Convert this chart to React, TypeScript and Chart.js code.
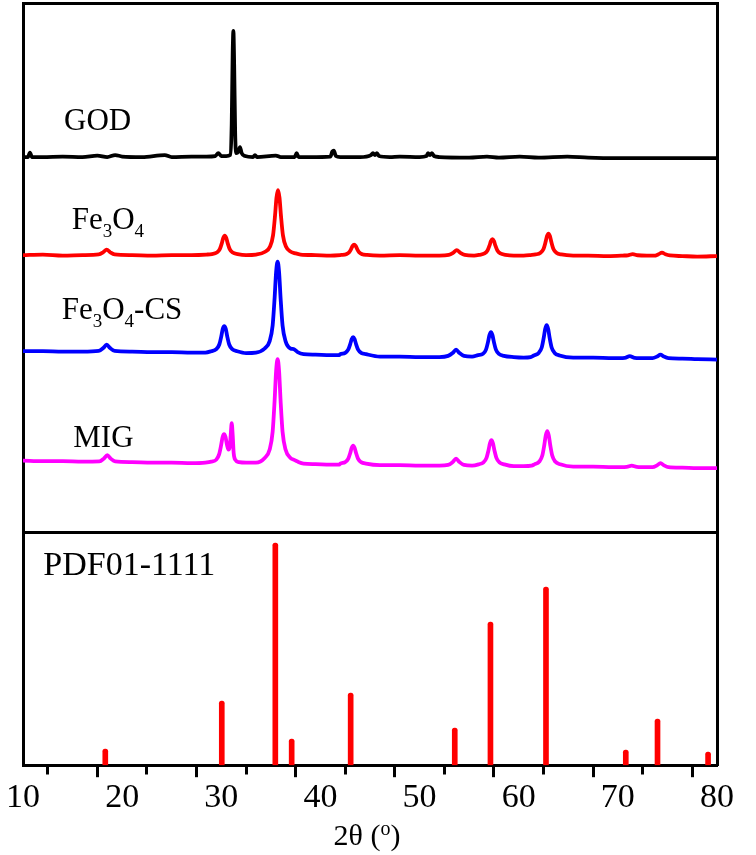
import React, { useEffect, useRef } from "react";
import { Chart, registerables } from "chart.js";

Chart.register(...registerables);

// ---------- data (2θ in degrees, intensity in a.u., curves stacked with offsets) ----------
const godCurve: [number, number][] = [
  [10, 608], [10.5, 608], [10.7, 612.5], [10.9, 608], [12, 608], [14, 608.5], [16, 608],
  [17.5, 609.5], [18.5, 608], [19.3, 610], [20, 608.5], [22, 608], [24.3, 610], [25, 608],
  [27, 608.5], [28.5, 608.5], [29.4, 609], [29.7, 612], [30.0, 609], [30.5, 609], [30.9, 610],
  [31.05, 640], [31.15, 712], [31.22, 734], [31.3, 700], [31.4, 632], [31.5, 612], [31.7, 613],
  [31.89, 618], [32.05, 612], [32.4, 609], [33.2, 608], [33.4, 610], [33.6, 608], [35.5, 609.5],
  [36, 608], [37.4, 608], [37.6, 612], [37.8, 608], [39, 608], [41, 608.5], [41.2, 613.5],
  [41.35, 614.5], [41.55, 609], [42, 608], [44, 608], [45.1, 610], [45.3, 612], [45.5, 610],
  [45.7, 612], [45.9, 609], [47, 608], [48, 608.5], [50, 608], [50.7, 609], [50.85, 612],
  [51.05, 610], [51.25, 612], [51.45, 609], [52, 608], [55, 607.5], [56.8, 608.5], [58, 607.5],
  [60.1, 608.5], [62, 607.5], [64.9, 608.5], [67, 607.5], [70, 607], [75, 607], [80, 607],
];

const fe3o4Curve: [number, number][] = [
  [10, 510], [12, 510.5], [14, 509.5], [16, 510],
  [17.64, 510.6], [18.09, 512.8], [18.44, 515.5], [18.79, 512.8], [19.24, 510.6],
  [21, 510], [23, 509.5], [25, 510], [27, 510], [28.5, 510.5],
  [29.05, 511], [29.55, 512.5], [29.85, 515.9], [30.05, 521.7], [30.2, 527.2], [30.35, 529.5],
  [30.5, 527.2], [30.65, 521.7], [30.85, 515.9], [31.15, 512.5], [31.65, 511],
  [32.5, 510], [33.5, 510.5],
  [34.42, 513.3], [34.92, 518.5], [35.22, 529.7], [35.42, 549.3], [35.57, 567.6], [35.72, 575],
  [35.87, 567.6], [36.02, 549.3], [36.22, 529.7], [36.52, 518.5], [37.02, 513.3],
  [37.4, 512], [38, 510.5], [39.5, 510], [41, 509.5], [42, 510],
  [42.1, 510.1], [42.6, 510.9], [42.9, 512.8], [43.1, 516.1], [43.25, 519.2], [43.4, 520.5],
  [43.55, 519.2], [43.7, 516.1], [43.9, 512.8], [44.2, 510.9], [44.7, 510.1],
  [46, 509.5], [48, 510], [50, 509.5], [52, 509.5],
  [52.95, 510.1], [53.4, 512.3], [53.75, 515], [54.1, 512.3], [54.55, 510.1],
  [55.5, 509.5],
  [56.05, 510.3], [56.55, 511.6], [56.85, 514.5], [57.05, 519.4], [57.2, 524], [57.35, 526],
  [57.5, 524], [57.65, 519.4], [57.85, 514.5], [58.15, 511.6], [58.65, 510.3],
  [59.5, 509.5], [60.5, 509.5], [61.2, 510],
  [61.7, 510.6], [62.2, 512.4], [62.5, 516.1], [62.7, 522.7], [62.85, 528.9], [63.0, 531.5],
  [63.15, 528.9], [63.3, 522.7], [63.5, 516.1], [63.8, 512.4], [64.3, 510.6],
  [65.5, 509.5], [67, 509.5], [69, 509], [70.5, 509.5],
  [71.0, 509.8], [71.5, 511], [72.0, 509.8],
  [73.2, 509.5],
  [73.65, 509.4], [74.1, 510.8], [74.45, 512.5], [74.8, 510.8], [75.25, 509.6],
  [76.5, 509], [78, 508.5], [80, 509],
];

const fe3o4CsCurve: [number, number][] = [
  [10, 414], [12, 414], [14, 413.5], [16, 413.5],
  [17.64, 414.2], [18.09, 417], [18.44, 420.5], [18.79, 417], [19.24, 414.2],
  [21, 413.5], [23, 413], [25, 413], [27, 412.5], [28.4, 412.5],
  [29.0, 413.9], [29.5, 416], [29.8, 420.6], [30.0, 428.7], [30.15, 436.3], [30.3, 439],
  [30.45, 436.3], [30.6, 428.7], [30.8, 420.6], [31.1, 416], [31.6, 413.9],
  [32.5, 412], [33.5, 412.5],
  [34.38, 416.6], [34.88, 424], [35.18, 439.6], [35.38, 467.2], [35.53, 493], [35.68, 503.5],
  [35.83, 493], [35.98, 467.2], [36.18, 439.6], [36.48, 424], [36.98, 416.6],
  [37.3, 416], [37.7, 413], [38.3, 411],
  [39.5, 410.5], [41, 410], [41.9, 410],
  [42.0, 410.9], [42.5, 412.3], [42.8, 415.4], [43.0, 420.8], [43.15, 425.8], [43.3, 428],
  [43.45, 425.8], [43.6, 420.8], [43.8, 415.4], [44.1, 412.3], [44.6, 410.9],
  [46, 408.5], [48, 408.5], [50, 408], [52, 408],
  [52.88, 409.2], [53.33, 412], [53.68, 415.5], [54.03, 412], [54.48, 409.2],
  [55.3, 408.5],
  [55.9, 410], [56.4, 411.3], [56.7, 415.5], [56.9, 423], [57.05, 430], [57.2, 433],
  [57.35, 430], [57.5, 423], [57.7, 415.5], [58.0, 411.3], [58.5, 409.3],
  [59.5, 408], [60.5, 407.5], [61.2, 408],
  [61.52, 409.6], [62.02, 412.2], [62.32, 417.6], [62.52, 427.2], [62.67, 436.2], [62.82, 440],
  [62.97, 436.2], [63.12, 427.2], [63.32, 417.6], [63.62, 412.2], [64.12, 409.6],
  [65.5, 407.5], [67.5, 407.5], [69.5, 407],
  [70.7, 407.3], [71.2, 409], [71.7, 407.3],
  [72.8, 407],
  [73.5, 407], [73.95, 408.5], [74.3, 410.5], [74.65, 408.5], [75.1, 407],
  [76.5, 406.5], [78, 406], [80, 405.5],
];

const migCurve: [number, number][] = [
  [10, 304.5], [12, 304], [14, 304], [16, 303.5],
  [17.7, 303.7], [18.15, 306.5], [18.5, 310], [18.85, 306.5], [19.3, 303.7],
  [21, 303], [23, 302.5], [25, 302.5], [27, 302], [28.4, 302.5],
  [29.0, 303.5], [29.5, 305.5], [29.78, 310.8], [29.98, 319.7], [30.13, 328], [30.28, 331],
  [30.43, 328], [30.58, 320], [30.72, 315.5], [30.85, 318], [30.95, 330], [31.05, 342],
  [31.15, 330], [31.25, 312], [31.4, 305.5], [31.8, 303],
  [32.5, 302.5], [33.5, 302.5],
  [34.38, 307.2], [34.88, 315.6], [35.18, 333.4], [35.38, 364.7], [35.53, 394], [35.68, 406],
  [35.83, 394], [35.98, 364.7], [36.18, 333.4], [36.48, 315.6], [36.98, 307.2],
  [37.3, 305.5], [37.7, 303.5], [38.3, 301.5],
  [39.5, 301], [41, 300.5], [41.9, 300.5],
  [42.0, 301.5], [42.5, 303], [42.8, 306.2], [43.0, 311.9], [43.15, 317.2], [43.3, 319.5],
  [43.45, 317.2], [43.6, 311.9], [43.8, 306.2], [44.1, 303], [44.6, 301.5],
  [46, 300], [48, 300], [50, 299.5], [52, 299.5],
  [52.88, 300.2], [53.33, 303], [53.68, 306.5], [54.03, 303], [54.48, 300.2],
  [55.3, 299.5],
  [55.95, 300.8], [56.45, 302.8], [56.75, 307.2], [56.95, 314.8], [57.1, 321.9], [57.25, 325],
  [57.4, 321.9], [57.55, 314.8], [57.75, 307.2], [58.05, 302.8], [58.55, 300.8],
  [59.5, 299], [60.5, 299], [61.3, 299.5],
  [61.58, 300.8], [62.08, 303.6], [62.38, 309.5], [62.58, 320], [62.73, 329.8], [62.88, 334],
  [63.03, 329.8], [63.18, 320], [63.38, 309.5], [63.68, 303.6], [64.18, 300.8],
  [65.5, 298.5], [67.5, 298.5], [69.5, 298],
  [70.9, 298.3], [71.4, 299.5], [71.9, 298.3],
  [73.0, 298],
  [73.5, 298], [73.95, 299.8], [74.3, 302], [74.65, 299.8], [75.1, 298],
  [76.5, 297.5], [78, 297], [80, 297],
];

// PDF#01-1111 reference lines
const pdfPositions = [18.3, 30.05, 35.45, 37.1, 43.05, 53.55, 57.15, 62.75, 70.8, 74.0, 79.1];
const pdfIntensities = [16, 64, 222, 26, 72, 37, 143, 178, 15, 46, 13];

const xMin = 10;
const xMax = 80;
const xStep = 5;
const xLabelEvery = 10;
const yMin = 0;
const yMax = 762;
const panelBoundary = 233;

type Part = { t: string; sub?: boolean };
const sampleLabels: { parts: Part[]; x: number; y: number; size?: number }[] = [
  { parts: [{ t: "GOD" }], x: 14.14, y: 635 },
  { parts: [{ t: "Fe" }, { t: "3", sub: true }, { t: "O" }, { t: "4", sub: true }], x: 14.91, y: 535.7 },
  {
    parts: [{ t: "Fe" }, { t: "3", sub: true }, { t: "O" }, { t: "4", sub: true }, { t: "-CS" }],
    x: 13.9,
    y: 445.7,
  },
  { parts: [{ t: "MIG" }], x: 15.07, y: 318.3 },
  { parts: [{ t: "PDF01-1111" }], x: 12.05, y: 190, size: 34 },
];

const FONT = '"Liberation Serif", "Times New Roman", serif';

const toPoints = (arr: [number, number][]) => arr.map(([x, y]) => ({ x, y }));

const textPlugin = {
  id: "xrdText",
  afterDatasetsDraw(chart: any) {
    const { ctx, scales, chartArea } = chart;
    const xs = scales.x;
    const ys = scales.y;
    ctx.save();
    ctx.fillStyle = "#000";
    ctx.textBaseline = "alphabetic";
    ctx.textAlign = "left";
    for (const lab of sampleLabels) {
      const size = lab.size ?? 31;
      let px = xs.getPixelForValue(lab.x);
      const py = ys.getPixelForValue(lab.y);
      for (const p of lab.parts) {
        const s = p.sub ? Math.round(size * 0.6) : size;
        ctx.font = `${s}px ${FONT}`;
        ctx.fillText(p.t, px, py + (p.sub ? Math.round(size * 0.26) : 0));
        px += ctx.measureText(p.t).width;
      }
    }
    // axis title: 2θ (°) with superscript o
    const main = 30;
    const sup = 20;
    const parts = [
      { t: "2θ (", s: main, dy: 0 },
      { t: "o", s: sup, dy: -10 },
      { t: ")", s: main, dy: 0 },
    ];
    let total = 0;
    for (const p of parts) {
      ctx.font = `${p.s}px ${FONT}`;
      total += ctx.measureText(p.t).width;
    }
    let tx = (chartArea.left + chartArea.right) / 2 - total / 2 - 3;
    const base = chart.height - 10;
    for (const p of parts) {
      ctx.font = `${p.s}px ${FONT}`;
      ctx.fillText(p.t, tx, base + p.dy);
      tx += ctx.measureText(p.t).width;
    }
    ctx.restore();
  },
};

export default function App() {
  const ref = useRef<HTMLCanvasElement | null>(null);

  useEffect(() => {
    if (!ref.current) return;
    const lineDs = (label: string, data: [number, number][], color: string) => ({
      type: "line" as const,
      label,
      data: toPoints(data),
      borderColor: color,
      backgroundColor: color,
      borderWidth: 3.8,
      pointRadius: 0,
      cubicInterpolationMode: "monotone" as const,
      borderJoinStyle: "round" as const,
      borderCapStyle: "round" as const,
      xAxisID: "x",
      yAxisID: "y",
    });

    const chart = new Chart(ref.current, {
      type: "line",
      data: {
        datasets: [
          lineDs("GOD", godCurve, "#000000"),
          lineDs("Fe3O4", fe3o4Curve, "#ff0000"),
          lineDs("Fe3O4-CS", fe3o4CsCurve, "#0000ff"),
          lineDs("MIG", migCurve, "#ff00ff"),
          {
            type: "bar" as const,
            label: "PDF01-1111",
            data: pdfPositions.map((x, i) => ({ x, y: pdfIntensities[i] })),
            backgroundColor: "#ff0000",
            borderWidth: 0,
            barThickness: 5,
            borderRadius: { topLeft: 2.5, topRight: 2.5, bottomLeft: 0, bottomRight: 0 },
            borderSkipped: "bottom",
            xAxisID: "x",
            yAxisID: "y",
          } as any,
        ],
      },
      options: {
        responsive: false,
        animation: false,
        events: [],
        layout: { padding: { left: 23, right: 39, top: 3, bottom: 37 } },
        plugins: {
          legend: { display: false },
          tooltip: { enabled: false },
          title: { display: false },
        },
        scales: {
          x: {
            type: "linear",
            position: "bottom",
            min: xMin,
            max: xMax,
            offset: false,
            ticks: {
              stepSize: xStep,
              autoSkip: false,
              maxRotation: 0,
              padding: 0,
              color: "#000",
              font: { family: FONT, size: 34 },
              callback: (v: any) => (Number(v) % xLabelEvery === 0 ? String(v) : ""),
            },
            grid: {
              drawOnChartArea: false,
              drawTicks: true,
              tickLength: 12,
              tickColor: "#000",
              tickWidth: 3,
              tickBorderDash: (ctx: any) =>
                ctx.tick && Number(ctx.tick.value) % xLabelEvery !== 0 ? [7.5, 100] : [],
            },
            border: { display: true, color: "#000", width: 3 },
          },
          xT: {
            type: "linear",
            position: "top",
            min: xMin,
            max: xMax,
            ticks: { display: false },
            grid: { display: false, drawTicks: false },
            border: { display: true, color: "#000", width: 3 },
          },
          y: {
            type: "linear",
            position: "left",
            min: yMin,
            max: yMax,
            ticks: { display: false },
            afterBuildTicks: (axis: any) => {
              axis.ticks = [{ value: panelBoundary }];
            },
            grid: {
              display: true,
              drawOnChartArea: true,
              drawTicks: false,
              color: "#000",
              lineWidth: 3,
            },
            border: { display: true, color: "#000", width: 3 },
          },
          yR: {
            type: "linear",
            position: "right",
            min: yMin,
            max: yMax,
            ticks: { display: false },
            grid: { display: false, drawTicks: false },
            border: { display: true, color: "#000", width: 3 },
          },
        },
      } as any,
      plugins: [textPlugin],
    });
    return () => chart.destroy();
  }, []);

  return (
    <div style={{ position: "absolute", left: 0, top: 0, width: 756, height: 855, background: "#fff" }}>
      <canvas ref={ref} width={756} height={855} style={{ width: 756, height: 855, display: "block" }} />
    </div>
  );
}
